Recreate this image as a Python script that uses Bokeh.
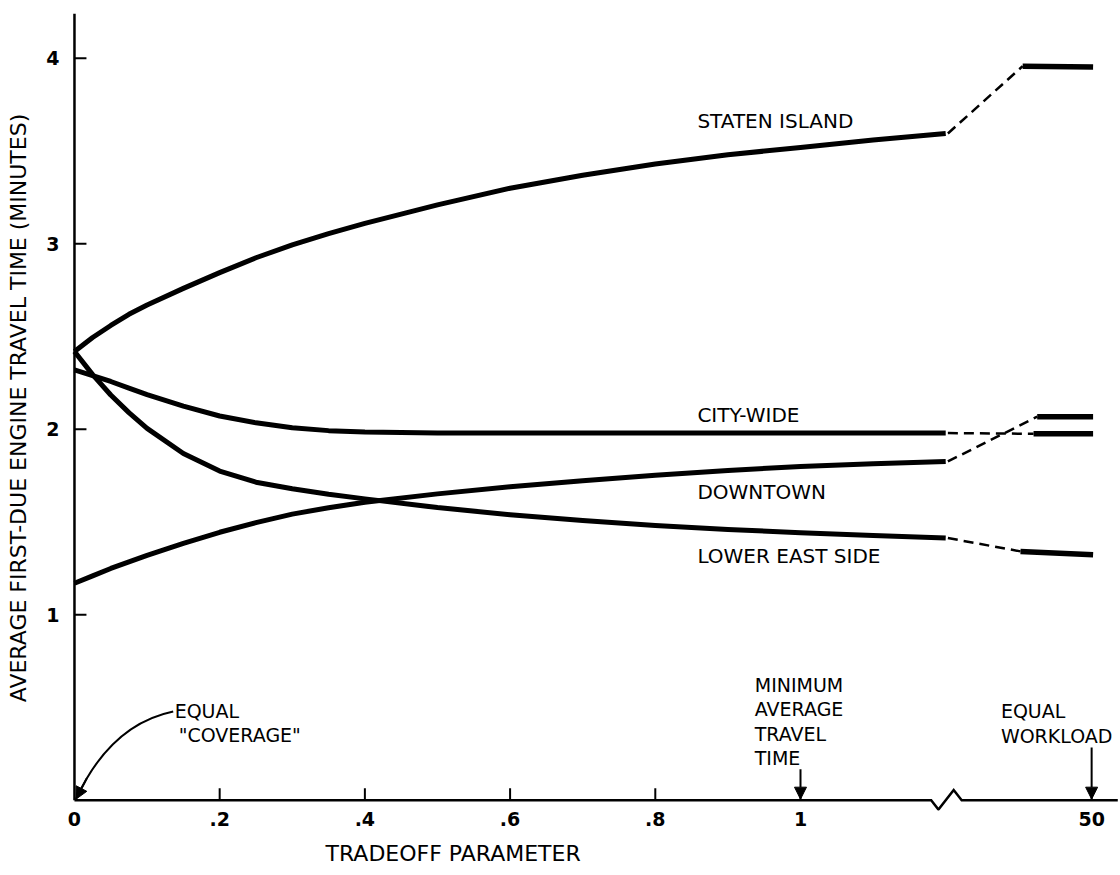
import numpy as np
from bokeh.plotting import figure
from bokeh.models import Range1d, FixedTicker, Label, Arrow, NormalHead, Title
from bokeh.embed import file_html
from bokeh.resources import INLINE

# ---------------------------------------------------------------------------
# Data: average first-due engine travel time (minutes) vs tradeoff parameter.
# The horizontal axis is linear from 0 to 1, runs a little past 1, then is
# broken and jumps to the value at 50 (equal workload).
# ---------------------------------------------------------------------------
tradeoff = [0, .025, .05, .075, .1, .15, .2, .25, .3, .35, .4, .5, .6, .7, .8, .9,
            1.0, 1.1, 1.2]

staten_island = [2.42, 2.495, 2.56, 2.62, 2.67, 2.76, 2.845, 2.925, 2.995, 3.055, 3.11,
                 3.21, 3.30, 3.37, 3.43, 3.48, 3.52, 3.56, 3.595]
city_wide = [2.32, 2.29, 2.258, 2.222, 2.187, 2.125, 2.072, 2.035, 2.008, 1.993, 1.985,
             1.98, 1.98, 1.98, 1.98, 1.98, 1.98, 1.98, 1.98]
downtown = [1.17, 1.21, 1.25, 1.285, 1.32, 1.385, 1.445, 1.497, 1.543, 1.577, 1.607,
            1.652, 1.69, 1.723, 1.752, 1.778, 1.80, 1.815, 1.827]
lower_east_side = [2.42, 2.295, 2.185, 2.09, 2.005, 1.87, 1.775, 1.715, 1.68, 1.65, 1.625,
                   1.578, 1.54, 1.508, 1.482, 1.46, 1.443, 1.427, 1.414]

# values at tradeoff = 50 (start and end of the plateau segment)
at_fifty = {
    "STATEN ISLAND": [3.958, 3.953],
    "CITY-WIDE": [1.976, 1.976],
    "DOWNTOWN": [2.068, 2.068],
    "LOWER EAST SIDE": [1.342, 1.324],
}
# axis position where each plateau begins, and where all plateaus end
plateau_start = {"STATEN ISLAND": 1.306, "CITY-WIDE": 1.321, "DOWNTOWN": 1.326,
                 "LOWER EAST SIDE": 1.303}
PLATEAU_END = 1.403

# tick positions along the drawn axis and their labels ("50" sits past the break)
x_tick_pos = [0, 0.2, 0.4, 0.6, 0.8, 1.0, 1.401]
x_tick_labels = ["0", ".2", ".4", ".6", ".8", "1", "50"]
y_tick_pos = [1, 2, 3, 4]

series = [
    ("STATEN ISLAND", staten_island),
    ("CITY-WIDE", city_wide),
    ("DOWNTOWN", downtown),
    ("LOWER EAST SIDE", lower_east_side),
]
label_pos = {"STATEN ISLAND": (0.858, 3.66), "CITY-WIDE": (0.858, 2.078),
             "DOWNTOWN": (0.858, 1.664), "LOWER EAST SIDE": (0.858, 1.319)}

FONT = "DejaVu Sans"
INK = "black"

p = figure(width=1120, height=875, output_backend="svg", toolbar_location=None,
           x_range=Range1d(-0.0096, 1.438), y_range=Range1d(-0.055, 4.285),
           min_border_left=67, min_border_right=2, min_border_top=5, min_border_bottom=64)
p.outline_line_color = None
p.grid.visible = False
p.background_fill_color = "white"
p.border_fill_color = "white"

# --- axes: tick labels from Bokeh, axis lines drawn as glyphs below ---------
p.xaxis.ticker = FixedTicker(ticks=x_tick_pos)
p.xaxis.major_label_overrides = dict(zip(x_tick_pos, x_tick_labels))
p.yaxis.ticker = FixedTicker(ticks=y_tick_pos)
for ax in (p.xaxis, p.yaxis):
    ax.axis_line_color = None
    ax.major_tick_line_color = None
    ax.minor_tick_line_color = None
    ax.major_label_text_font = FONT
    ax.major_label_text_font_size = "19px"
    ax.major_label_text_font_style = "bold"
    ax.major_label_text_color = INK
p.xaxis.major_label_standoff = -5
p.yaxis.major_label_standoff = 2
p.yaxis.axis_label = "AVERAGE FIRST-DUE ENGINE TRAVEL TIME (MINUTES)"
p.yaxis.axis_label_text_font = FONT
p.yaxis.axis_label_text_font_size = "22px"
p.yaxis.axis_label_text_font_style = "normal"
p.yaxis.axis_label_text_color = INK
p.yaxis.axis_label_standoff = 12

# x axis title, set under the linear part of the axis
p.add_layout(Title(text="TRADEOFF PARAMETER", align="left", offset=258, standoff=20,
                   text_font=FONT, text_font_size="22px", text_font_style="normal",
                   text_color=INK), "below")

AXIS_TOP = 4.24
AXIS_RIGHT = 1.437
BREAK_AT = 1.180
p.line([0, 0], [0, AXIS_TOP], line_color=INK, line_width=2.5)
# x axis with a zigzag break between 1 and 50
p.line([0, BREAK_AT, BREAK_AT + 0.010, BREAK_AT + 0.031, BREAK_AT + 0.042, AXIS_RIGHT],
       [0, 0, -0.05, 0.055, 0, 0], line_color=INK, line_width=2.5, line_join="miter")

# inward tick marks
p.segment(x0=x_tick_pos[1:], y0=[0] * 6, x1=x_tick_pos[1:], y1=[0.065] * 6,
          line_color=INK, line_width=2)
p.segment(x0=[0] * 4, y0=y_tick_pos, x1=[0.0165] * 4, y1=y_tick_pos,
          line_color=INK, line_width=2)

# --- curves -----------------------------------------------------------------
for name, vals in series:
    p.line(tradeoff, vals, line_color=INK, line_width=5, line_join="round")
    x_pl = [plateau_start[name], PLATEAU_END]
    # dashed connector across the axis break
    p.line([tradeoff[-1] + 0.003, x_pl[0]], [vals[-1], at_fifty[name][0]],
           line_color=INK, line_width=2.5, line_dash="10 6")
    p.line(x_pl, at_fifty[name], line_color=INK, line_width=5.5)
    lx, ly = label_pos[name]
    p.add_layout(Label(x=lx, y=ly, text=name, text_font=FONT, text_font_size="20px",
                       text_color=INK, text_align="left", text_baseline="middle"))

# --- annotations ------------------------------------------------------------
def note(x, y, txt, align="left"):
    p.add_layout(Label(x=x, y=y, text=txt, text_font=FONT, text_font_size="19px",
                       text_color=INK, text_align=align, text_baseline="middle"))

note(0.138, 0.479, "EQUAL")
note(0.1435, 0.35, "\"COVERAGE\"")
for txt, yy in zip(["MINIMUM", "AVERAGE", "TRAVEL", "TIME"], [0.619, 0.49, 0.355, 0.226]):
    note(0.937, yy, txt)
note(1.276, 0.479, "EQUAL")
note(1.276, 0.345, "WORKLOAD")

# curved pointer to the origin ("equal coverage")
P0 = np.array([0.136, 0.479])
C = np.array([0.0496, 0.409])
P2 = np.array([0.002, 0.006])
p.quadratic(x0=[P0[0]], y0=[P0[1]], x1=[P2[0]], y1=[P2[1]], cx=[C[0]], cy=[C[1]],
            line_color=INK, line_width=2)
t = 0.85
tail = (1 - t) ** 2 * P0 + 2 * (1 - t) * t * C + t ** 2 * P2
p.add_layout(Arrow(end=NormalHead(size=12, fill_color=INK, line_color=INK),
                   x_start=tail[0], y_start=tail[1], x_end=P2[0], y_end=P2[1],
                   line_color=INK, line_width=2))

# straight pointers to tradeoff 1 and 50
for xa, ya in [(1.0, 0.167), (1.401, 0.285)]:
    p.add_layout(Arrow(end=NormalHead(size=12, fill_color=INK, line_color=INK),
                       x_start=xa, y_start=ya, x_end=xa, y_end=0.006,
                       line_color=INK, line_width=2))

open("out.html", "w").write(file_html(p, INLINE))
